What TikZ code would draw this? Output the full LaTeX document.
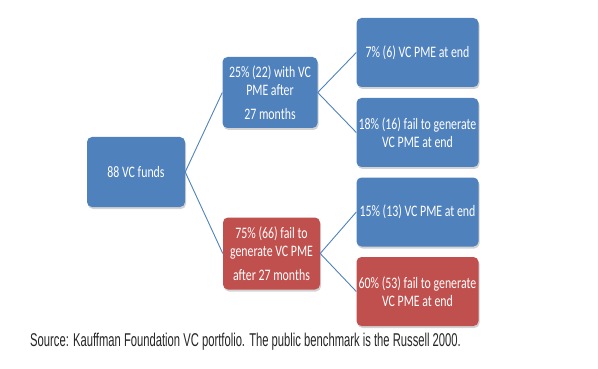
\documentclass[tikz,border=0pt]{standalone}
\usepackage{fontspec}
\setmainfont{Carlito}[FakeStretch=0.74]
\newfontfamily\capfont{Liberation Sans}[FakeStretch=0.607]
\usetikzlibrary{shadows}

\definecolor{boxblue}{RGB}{79,129,189}
\definecolor{boxred}{RGB}{192,80,77}

\tikzset{
	box/.style={rounded corners=5pt,text=white,align=center,
		font=\fontsize{16}{18.5}\selectfont,inner sep=2pt,
		drop shadow={shadow xshift=1pt,shadow yshift=-2pt,opacity=.35}},
	bluebox/.style={box,fill=boxblue},
	redbox/.style={box,fill=boxred},
	link/.style={draw=boxblue,line width=.9pt}
}

\begin{document}
\begin{tikzpicture}[x=1pt,y=-1pt]
	\useasboundingbox(0,0) rectangle (598,369);
	\node[bluebox,minimum width=98,minimum height=70](funds) at (136,172){88 VC funds};
	\node[bluebox,minimum width=95,minimum height=71](with) at (270,92.5)
		{25\% (22) with VC\\PME after\\[5pt]27 months};
	\node[redbox,minimum width=97,minimum height=72](fail) at (271.5,253.5)
		{75\% (66) fail to\\generate VC PME\\[5pt]after 27 months};
	\node[bluebox,minimum width=122,minimum height=69](a) at (417.5,52.5){7\% (6) VC PME at end};
	\node[bluebox,minimum width=122,minimum height=69](b) at (417.5,132.5)
		{18\% (16) fail to generate\\VC PME at end};
	\node[bluebox,minimum width=122,minimum height=69](c) at (417.5,212){15\% (13) VC PME at end};
	\node[redbox,minimum width=122,minimum height=69](d) at (417.5,291.5)
		{60\% (53) fail to generate\\VC PME at end};
	\draw[link](funds.east)--(with.west) (funds.east)--(fail.west);
	\draw[link](with.east)--(a.west) (with.east)--(b.west);
	\draw[link](fail.east)--(c.west) (fail.east)--(d.west);
	\node[font=\capfont\fontsize{18.5}{20}\selectfont,text=black!85,anchor=west,inner sep=0pt](src) at (30,342)
		{Source: Kauffman Foundation VC portfolio. The public benchmark is the Russell 2000.};
\end{tikzpicture}
\end{document}
